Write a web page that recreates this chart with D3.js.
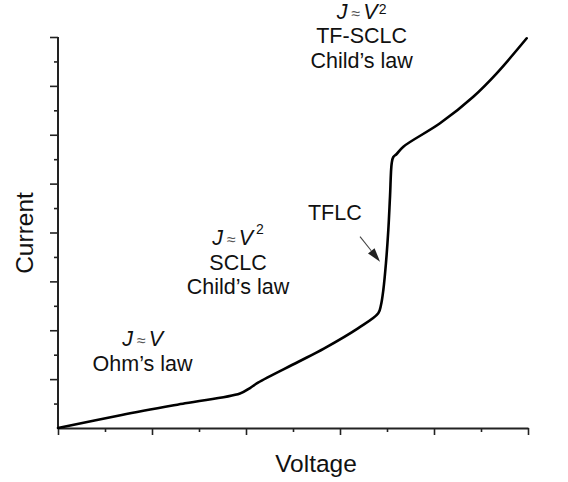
<!DOCTYPE html>
<html>
<head>
<meta charset="utf-8">
<script src="https://cdn.jsdelivr.net/npm/d3@7"></script>
<style>
  html, body { margin: 0; padding: 0; background: #fff; }
  svg { display: block; }
  text { font-family: "Liberation Sans", Arial, sans-serif; fill: #111; }
</style>
</head>
<body>
<svg id="chart" width="568" height="482"></svg>
<script>
// J–V characteristic: voltage (arbitrary units) vs current (arbitrary units)
const voltage = [0, 0.678, 1.351, 1.936, 2.043, 2.128, 2.553, 2.833, 3.191, 3.407, 3.436, 3.461, 3.489, 3.514, 3.532, 3.550, 3.566, 3.603, 3.674, 4.064, 4.418, 4.667, 4.986];
const current = [0, 0.266, 0.505, 0.706, 0.818, 0.927, 1.350, 1.631, 2.040, 2.347, 2.517, 2.824, 3.376, 4.051, 4.733, 5.416, 5.540, 5.606, 5.756, 6.234, 6.779, 7.258, 7.974];

// Tick positions (axes carry no numeric labels)
const xMajorTicks = [0, 1, 2, 3, 4, 5];
const xMinorTicks = [0.5, 1.5, 2.5, 3.5, 4.5];
const yMajorTicks = [1, 2, 3, 4, 5, 6, 7, 8];
const yMinorTicks = [0.5, 1.5, 2.5, 3.5, 4.5, 5.5, 6.5, 7.5];

// Regime annotations: text lines anchored at (x, y) in data units
const regimeLabels = [
  { x: 0.9,  y: 1.674, lines: [["J", "≈", "V", null], ["Ohm’s law"]] },
  { x: 1.915, y: 3.74, sup: -11, lines: [["J", "≈", "V", "2"], ["SCLC"], ["Child’s law"]] },
  { x: 3.23, y: 8.367, sup: -5, lines: [["J", "≈", "V", "2"], ["TF-SCLC"], ["Child’s law"]] }
];
const tflcLabel = { x: 2.945, y: 4.25, text: "TFLC" };
const tflcArrow = { from: [3.213, 3.914], to: [3.426, 3.403] };

const svg = d3.select("#chart");
const x = d3.scaleLinear().domain([0, 5]).range([58, 528]);
const y = d3.scaleLinear().domain([0, 8]).range([428, 37]);

// Axes: major ticks long, minor ticks short, no tick labels
function drawAxis(gen, ticks, size, cls, keepDomain) {
  const g = svg.append("g").attr("class", cls)
    .call(gen.tickValues(ticks).tickSize(size).tickSizeOuter(0).tickFormat(""));
  g.selectAll(".tick line").attr("stroke", "#222").attr("stroke-width", 1.6);
  if (keepDomain) g.select(".domain").attr("stroke", "#222").attr("stroke-width", 2);
  else g.select(".domain").remove();
  return g;
}
drawAxis(d3.axisBottom(x), xMinorTicks, 4, "x-minor", false).attr("transform", "translate(0,428)");
drawAxis(d3.axisBottom(x), xMajorTicks, 7, "x-major", true).attr("transform", "translate(0,428)");
drawAxis(d3.axisLeft(y), yMinorTicks, 4, "y-minor", false).attr("transform", "translate(58,0)");
drawAxis(d3.axisLeft(y), yMajorTicks, 8, "y-major", false).attr("transform", "translate(58,0)");
svg.append("line").attr("x1", 58).attr("x2", 58).attr("y1", y(8)).attr("y2", y(0) + 1)
  .attr("stroke", "#222").attr("stroke-width", 2);

// Axis titles
svg.append("text").attr("x", 316).attr("y", 472).attr("text-anchor", "middle")
  .style("font-size", "24.5px").text("Voltage");
svg.append("text").attr("transform", "translate(33,233) rotate(-90)")
  .attr("text-anchor", "middle").style("font-size", "24.5px").text("Current");

// J–V curve
const pts = voltage.map((v, i) => [v, current[i]]);
const line = d3.line().x(d => x(d[0])).y(d => y(d[1])).curve(d3.curveCatmullRom.alpha(0.5));
svg.append("path").datum(pts).attr("d", line)
  .attr("fill", "none").attr("stroke", "#000").attr("stroke-width", 2.6)
  .attr("stroke-linejoin", "round").attr("stroke-linecap", "round");

// Regime annotations
regimeLabels.forEach(lab => {
  const t = svg.append("text").attr("text-anchor", "middle").style("font-size", "21.5px");
  lab.lines.forEach((ln, i) => {
    const base = y(lab.y) + i * 24.4;
    if (ln.length === 1) {
      t.append("tspan").attr("x", x(lab.x)).attr("y", base).text(ln[0]);
    } else {
      t.append("tspan").attr("x", x(lab.x)).attr("y", base).style("font-style", "italic").text(ln[0]);
      t.append("tspan").attr("dx", 4).style("font-size", "16px").style("fill", "#555").text(ln[1]);
      t.append("tspan").attr("dx", 3).style("font-style", "italic").text(ln[2]);
      if (ln[3]) {
        t.append("tspan").attr("dx", lab.sup < -8 ? 3 : 1).attr("dy", lab.sup)
          .style("font-size", "14px").text(ln[3]);
      }
    }
  });
});

// TFLC label and arrow
svg.append("text").attr("x", x(tflcLabel.x)).attr("y", y(tflcLabel.y))
  .attr("text-anchor", "middle").style("font-size", "21.5px").text(tflcLabel.text);

const ax0 = x(tflcArrow.from[0]), ay0 = y(tflcArrow.from[1]);
const ax1 = x(tflcArrow.to[0]), ay1 = y(tflcArrow.to[1]);
const ang = Math.atan2(ay1 - ay0, ax1 - ax0);
const headLen = 14, headHalf = 4.2;
const bx = ax1 - headLen * Math.cos(ang), by = ay1 - headLen * Math.sin(ang);
svg.append("line").attr("x1", ax0).attr("y1", ay0).attr("x2", bx).attr("y2", by)
  .attr("stroke", "#444").attr("stroke-width", 1.1);
svg.append("polygon")
  .attr("points", [
    [ax1, ay1],
    [bx + headHalf * Math.sin(ang), by - headHalf * Math.cos(ang)],
    [bx - headHalf * Math.sin(ang), by + headHalf * Math.cos(ang)]
  ].map(p => p.join(",")).join(" "))
  .attr("fill", "#222");
</script>
</body>
</html>
